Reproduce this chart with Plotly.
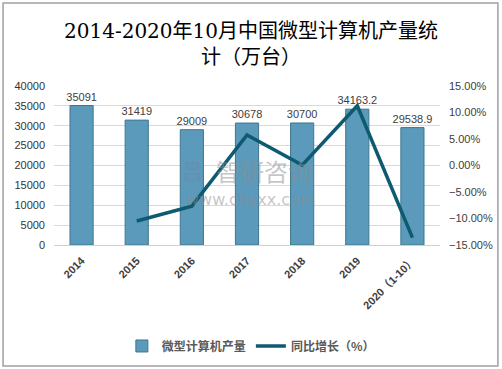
import plotly.graph_objects as go

categories = ["2014", "2015", "2016", "2017", "2018", "2019", "2020（1-10）"]
output = [35091, 31419, 29009, 30678, 30700, 34163.2, 29538.9]
output_labels = ["35091", "31419", "29009", "30678", "30700", "34163.2", "29538.9"]
growth = [None, -10.46, -7.67, 5.75, 0.07, 11.28, -13.6]

fig = go.Figure()
fig.add_trace(go.Bar(
    x=categories, y=output, name="微型计算机产量",
    text=output_labels, textposition="outside", cliponaxis=False,
    constraintext="none",
    textfont=dict(size=11, color="#404040", family="Liberation Sans, Noto Sans CJK SC"),
    marker=dict(color="#5b9aba", line=dict(color="#3f7690", width=1)),
    width=0.42,
))
fig.add_trace(go.Scatter(
    x=categories, y=growth, name="同比增长（%）", yaxis="y2",
    mode="lines", line=dict(color="#0e5a70", width=3.5),
    connectgaps=False,
))

fig.update_layout(
    width=502, height=369,
    margin=dict(l=54, r=62, t=86, b=124, autoexpand=False),
    paper_bgcolor="white", plot_bgcolor="white",
    xaxis=dict(
        tickangle=-45, showgrid=False, showline=True, linecolor="#d0d0d0",
        tickfont=dict(size=11, color="#404040", family="Liberation Sans, Noto Sans CJK SC", weight="bold"),
        ticks="", automargin=False, ticklabelstandoff=4,
    ),
    yaxis=dict(
        range=[0, 40000], dtick=5000, tickformat="d", showgrid=True, gridcolor="#d9d9d9", gridwidth=1,
        zeroline=False, tickfont=dict(size=11, color="#333", family="Liberation Sans"),
        ticks="", automargin=False, ticklabelstandoff=8,
    ),
    yaxis2=dict(
        overlaying="y", side="right", range=[-15, 15], dtick=5,
        tickformat=".2f", ticksuffix="%", showgrid=False, zeroline=False,
        tickfont=dict(size=11, color="#404040", family="Liberation Sans"),
        ticks="", automargin=False, ticklabelstandoff=8,
    ),
    legend=dict(
        orientation="h", x=0.51, xanchor="center", y=-0.635, yanchor="middle",
        font=dict(size=12, color="#595959", family="Noto Sans CJK SC", weight="bold"),
    ),
    showlegend=True,
)

# title
fig.add_annotation(
    text="2014-2020年10月中国微型计算机产量统<br>计（万台）",
    xref="paper", yref="paper", x=0.51, y=1.267, xanchor="center", yanchor="middle",
    showarrow=False,
    font=dict(family="DejaVu Serif, Noto Sans CJK SC", size=20, color="#000"),
)

# watermark
fig.add_annotation(text="智研咨询", xref="paper", yref="paper", x=0.544, y=0.47,
                   xanchor="center", yanchor="middle", showarrow=False, borderpad=0,
                   font=dict(size=24, color="rgba(140,140,140,0.5)", family="Noto Sans CJK SC"))
fig.add_annotation(text="www.chyxx.com", xref="paper", yref="paper", x=0.508, y=0.285,
                   xanchor="center", yanchor="middle", showarrow=False, borderpad=0,
                   font=dict(size=16, color="rgba(140,140,140,0.5)", family="DejaVu Sans"))
fig.add_annotation(text="<b>吕</b>", xref="paper", yref="paper", x=0.358, y=0.47,
                   xanchor="center", yanchor="middle", showarrow=False, borderpad=0,
                   font=dict(size=21, color="rgba(110,135,170,0.45)", family="Noto Sans CJK SC"))

# outer border
fig.add_shape(type="rect", xref="paper", yref="paper",
              x0=-0.132, x1=1.150, y0=-0.761, y1=1.522,
              line=dict(color="#a0a0a0", width=1.5), fillcolor="rgba(0,0,0,0)")

fig.write_html("out.html", config={"displayModeBar": False},
               post_script="document.body.style.margin='0';")
